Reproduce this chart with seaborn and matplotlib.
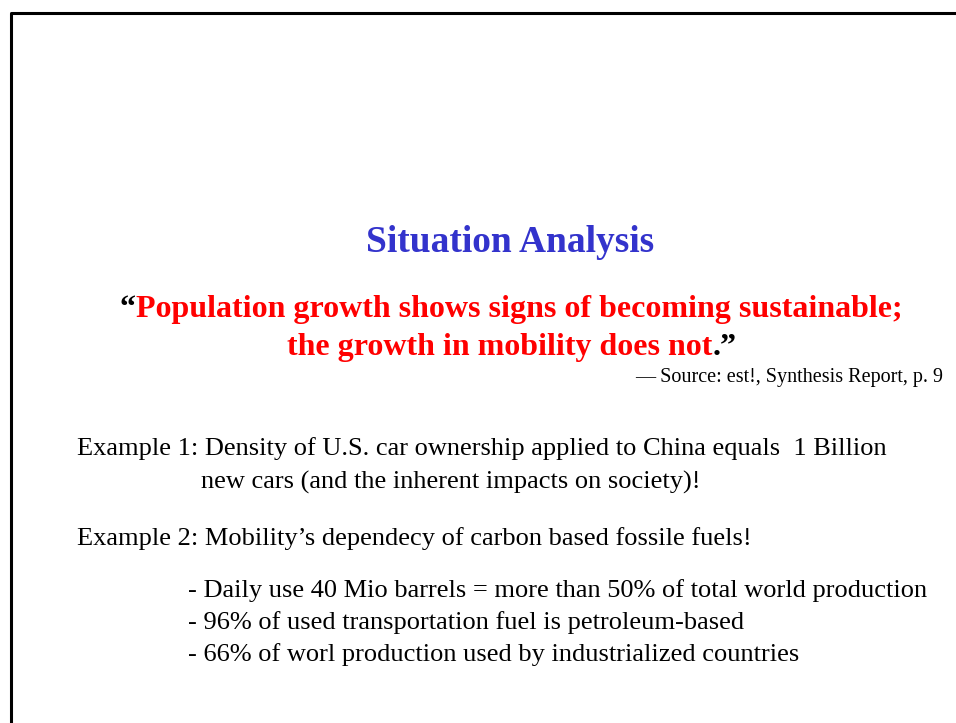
import matplotlib
matplotlib.use("Agg")
import matplotlib.pyplot as plt
import seaborn as sns

# slide text
title = "Situation Analysis"
quote_lines = ["Population growth shows signs of becoming sustainable;",
               "the growth in mobility does not"]
source = "\u2014 Source: est!, Synthesis Report, p. 9"
example_lines = ["Example 1: Density of U.S. car ownership applied to China equals  1 Billion",
                 "new cars (and the inherent impacts on society)!",
                 "Example 2: Mobility\u2019s dependecy of carbon based fossile fuels!"]
bullets = ["- Daily use 40 Mio barrels = more than 50% of total world production",
           "- 96% of used transportation fuel is petroleum-based",
           "- 66% of worl production used by industrialized countries"]

sns.set_style("white")
plt.rcParams['font.family'] = ['serif']
plt.rcParams['font.serif'] = ['Liberation Serif', 'DejaVu Serif']
plt.rcParams['text.color'] = 'black'

fig = plt.figure(figsize=(9.56, 7.23), dpi=100)
ax = fig.add_axes([0, 0, 1, 1])
ax.set_xlim(0, 956)
ax.set_ylim(723, 0)
ax.axis('off')

# frame of the slide
ax.plot([11.5, 11.5, 956], [723, 12.5, 12.5], color='black', lw=2.2, solid_capstyle='butt')

ax.text(510, 252, title, ha='center', va='baseline', fontsize=27,
        fontweight='bold', color='#3333CC')

# quote, first line: black opening mark then red text
q1 = ax.text(120, 317, "\u201c", ha='left', va='baseline', fontsize=23,
             fontweight='bold', color='black')
ax.annotate(quote_lines[0], xy=(1, 0), xycoords=q1, va='bottom', ha='left',
            fontsize=23, fontweight='bold', color='red')
q2 = ax.text(287, 355, quote_lines[1], ha='left', va='baseline', fontsize=23,
             fontweight='bold', color='red')
ax.annotate(".\u201d", xy=(1, 0), xycoords=q2, va='bottom', ha='left',
            fontsize=23, fontweight='bold', color='black')

ax.text(943, 382, source, ha='right', va='baseline', fontsize=14.5, color='black')

body = dict(ha='left', va='baseline', fontsize=19, color='black')
ax.text(77, 455, example_lines[0], **body)
ax.text(201, 489, example_lines[1], **body)
ax.text(77, 545, example_lines[2], **body)

for i, b in enumerate(bullets):
    ax.text(188, 597 + 32 * i, b, **body)

fig.savefig("out.png", dpi=100)
